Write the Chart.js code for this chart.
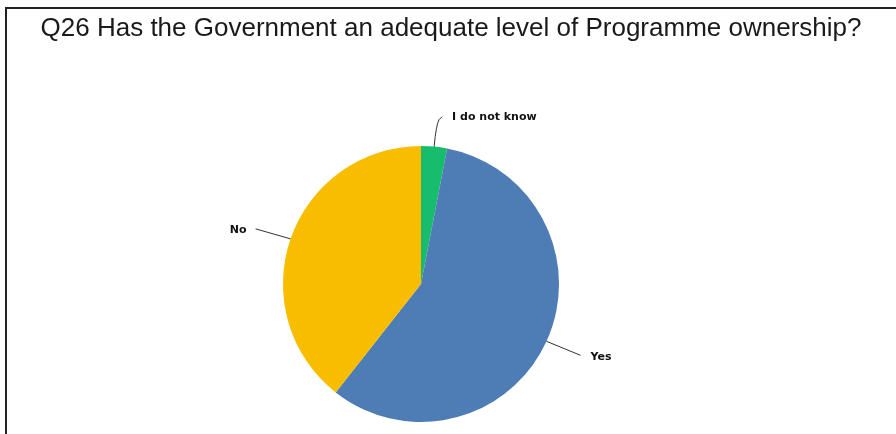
<!DOCTYPE html>
<html lang="en">
<head>
    <meta charset="UTF-8">
    <title>Q26 Programme ownership</title>
    <script src="https://cdn.jsdelivr.net/npm/chart.js"></script>
    <style>
        html, body { margin: 0; padding: 0; background: #fff; }
        #wrap { position: relative; width: 896px; height: 434px; }
    </style>
</head>
<body>
    <div id="wrap"><canvas id="pieChart" width="896" height="434"></canvas></div>

    <script>
        const chartTitle = 'Q26 Has the Government an adequate level of Programme ownership?';
        const answers = ['I do not know', 'Yes', 'No'];
        const responses = [1, 19, 13];
        const sliceColors = ['#17bd6c', '#4e7cb5', '#f9bd00'];

        // frame + title + labels with leader lines
        const decorations = {
            id: 'decorations',
            beforeDraw(chart) {
                const c = chart.ctx;
                c.save();
                c.fillStyle = '#fff';
                c.fillRect(0, 0, chart.width, chart.height);
                c.strokeStyle = '#222';
                c.lineWidth = 2;
                c.beginPath();
                c.moveTo(6, chart.height);
                c.lineTo(6, 8);
                c.lineTo(chart.width, 8);
                c.stroke();
                c.fillStyle = '#1a1a1a';
                c.font = '26px "Liberation Sans", Arial, sans-serif';
                c.textAlign = 'center';
                c.textBaseline = 'alphabetic';
                c.fillText(chartTitle, 451, 36);
                c.restore();
            },
            afterDatasetsDraw(chart) {
                const c = chart.ctx;
                const arcs = chart.getDatasetMeta(0).data;
                c.save();
                c.strokeStyle = '#333';
                c.lineWidth = 1;
                c.fillStyle = '#111';
                c.font = 'bold 11px "DejaVu Sans", sans-serif';
                c.textBaseline = 'middle';
                arcs.forEach((arc, i) => {
                    const mid = (arc.startAngle + arc.endAngle) / 2;
                    const r = arc.outerRadius;
                    const x0 = arc.x + Math.cos(mid) * r;
                    const y0 = arc.y + Math.sin(mid) * r;
                    c.beginPath();
                    c.moveTo(x0, y0);
                    if (i === 0) {
                        c.quadraticCurveTo(x0 + 2, y0 - 22, x0 + 5, y0 - 27);
                        c.lineTo(x0 + 8, y0 - 30);
                        c.stroke();
                        c.textAlign = 'left';
                        c.fillText(answers[i], x0 + 18, y0 - 29);
                    } else {
                        const right = Math.cos(mid) >= 0;
                        const x1 = x0 + (right ? 34 : -35);
                        const y1 = y0 + (right ? 14 : -10);
                        c.lineTo(x1, y1);
                        c.stroke();
                        c.textAlign = right ? 'left' : 'right';
                        c.fillText(answers[i], x1 + (right ? 10 : -9), y1 + (right ? 2 : 1));
                    }
                });
                c.restore();
            }
        };

        const ctx = document.getElementById('pieChart').getContext('2d');
        new Chart(ctx, {
            type: 'pie',
            data: {
                labels: answers,
                datasets: [{
                    data: responses,
                    backgroundColor: sliceColors,
                    borderWidth: 0
                }]
            },
            options: {
                responsive: false,
                animation: false,
                layout: { padding: { left: 283, right: 337, top: 146, bottom: 12 } },
                plugins: {
                    legend: { display: false },
                    tooltip: { enabled: false }
                }
            },
            plugins: [decorations]
        });
    </script>
</body>
</html>
